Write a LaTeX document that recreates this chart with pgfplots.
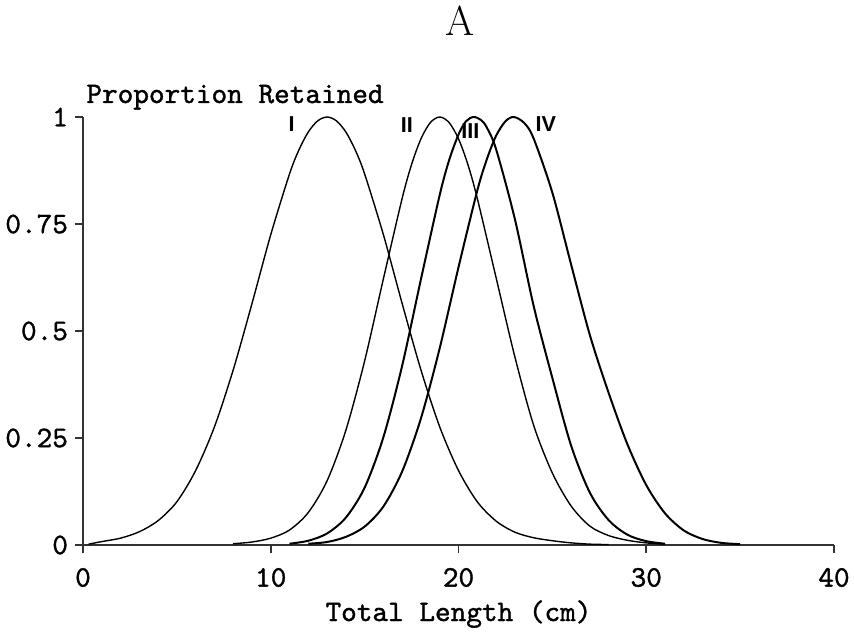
\documentclass[border=0pt]{standalone}
\usepackage{fontspec}
\setsansfont{Liberation Sans}
\setmonofont{lmmono10-regular.otf}[AutoFakeBold=1.2]
\usepackage{pgfplots}
\pgfplotsset{compat=1.18}
\pgfplotstableread{
x y
0.3 0.002
1 0.008
2 0.016
3 0.031
4 0.057
5 0.101
6 0.174
7 0.276
8 0.409
9 0.564
10 0.725
11 0.867
11.5 0.923
12 0.965
12.5 0.991
13 1.000
13.5 0.991
14 0.965
14.5 0.923
15 0.867
16 0.725
17 0.564
18 0.409
19 0.276
20 0.174
21 0.101
22 0.056
23 0.030
24 0.017
25 0.010
26 0.005
27 0.002
28 0.001
}\curveI
\pgfplotstableread{
x y
8 0.003
9 0.007
10 0.016
11 0.035
12 0.076
13 0.150
14 0.268
15 0.430
16 0.622
17 0.810
17.5 0.889
18 0.949
18.5 0.987
19 1.000
19.5 0.987
20 0.949
20.5 0.889
21 0.810
22 0.625
23 0.440
24 0.280
25 0.168
26 0.091
27 0.044
28 0.022
29 0.011
30 0.005
31 0.002
}\curveII
\pgfplotstableread{
x y
11 0.003
12 0.010
13 0.027
14 0.064
15 0.134
16 0.252
17 0.419
18 0.621
19 0.818
19.5 0.899
20 0.959
20.4 0.990
20.8 1.000
21.2 0.993
21.5 0.976
22 0.925
23 0.762
24 0.559
25 0.390
26 0.232
27 0.122
28 0.058
29 0.024
30 0.009
31 0.003
}\curveIII
\pgfplotstableread{
x y
12 0.003
13 0.007
14 0.019
15 0.043
16 0.090
17 0.172
18 0.296
19 0.460
20 0.649
21 0.828
21.5 0.900
22 0.956
22.5 0.990
22.95 1.000
23.5 0.986
24 0.950
25 0.823
26 0.655
27 0.490
28 0.355
29 0.235
30 0.140
31 0.074
32 0.034
33 0.014
34 0.005
35 0.002
}\curveIV
\newcommand{\lblfont}{\fontsize{14.9}{17}\selectfont\ttfamily\bfseries}
\begin{document}
\begin{tikzpicture}
\begin{axis}[
  scale only axis,
  width=375.5pt, height=214pt,
  xmin=0, xmax=40, ymin=0, ymax=1,
  axis x line=bottom, axis y line=left,
  axis line style={-, line width=1pt, black!80},
  xtick={0,10,20,30,40}, xticklabels={0,10,20,30,40},
  ytick={0,0.25,0.5,0.75,1}, yticklabels={0,0.25,0.5,0.75,1},
  tick align=outside, major tick length=4pt,
  tick style={black!80, line width=0.8pt},
  ticklabel style={font=\lblfont},
  xticklabel style={yshift=-4pt},
  xlabel={Total Length (cm)},
  xlabel style={font=\lblfont, at={(axis description cs:0.5,0)}, anchor=base, yshift=-38pt},
  clip=false,
]
\addplot[black, line width=0.7pt, smooth] table {\curveI};
\addplot[black, line width=0.7pt, smooth] table {\curveII};
\addplot[black, line width=1pt, smooth] table {\curveIII};
\addplot[black, line width=1pt, smooth] table {\curveIV};
\node[font=\fontsize{10.8}{12}\selectfont\sffamily\bfseries] at (axis cs:11.11,0.984) {I};
\node[font=\fontsize{10.8}{12}\selectfont\sffamily\bfseries] at (axis cs:17.25,0.98) {II};
\node[font=\fontsize{10.8}{12}\selectfont\sffamily\bfseries] at (axis cs:20.63,0.968) {III};
\node[font=\fontsize{10.8}{12}\selectfont\sffamily\bfseries] at (axis cs:24.65,0.983) {IV};
\node[font=\lblfont, anchor=base west, inner sep=0pt] at ([xshift=1.5pt,yshift=7pt]rel axis cs:0,1) {Proportion Retained};
\node[font=\fontsize{21}{25}\selectfont, anchor=base, inner sep=0pt] at ([yshift=40.5pt]axis cs:20.1,1) {A};
\end{axis}
\pgfresetboundingbox
\path[use as bounding box] (current axis.south west) ++(-41.5pt,-43.5pt) rectangle ++(427pt,316pt);
\end{tikzpicture}
\end{document}
